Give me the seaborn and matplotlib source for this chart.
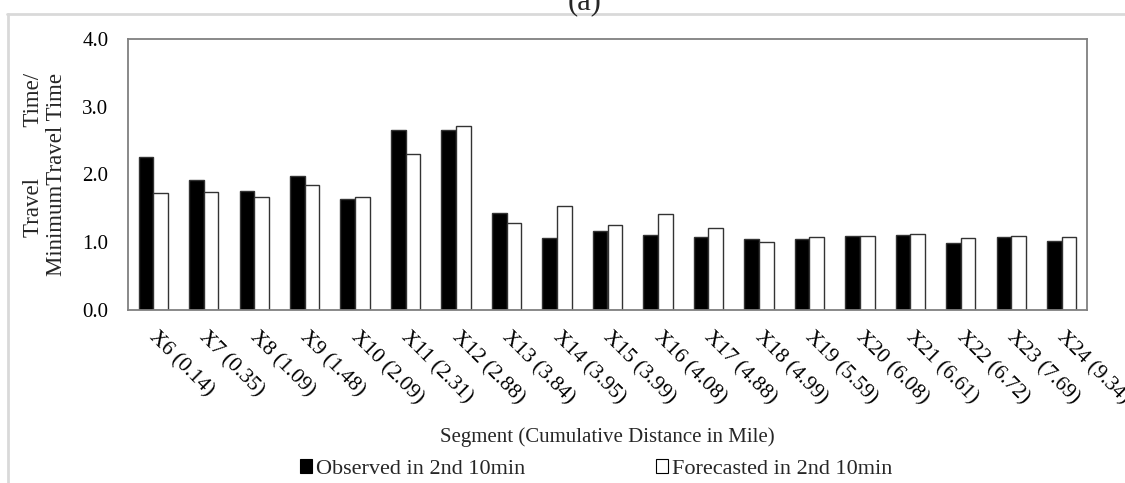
import matplotlib
matplotlib.use("Agg")
import matplotlib.pyplot as plt
from matplotlib.patches import Patch
from matplotlib.lines import Line2D
from matplotlib.transforms import ScaledTranslation
import pandas as pd
import seaborn as sns

# Segment labels with cumulative distance (miles)
segments = ["X6 (0.14)", "X7 (0.35)", "X8 (1.09)", "X9 (1.48)", "X10 (2.09)",
            "X11 (2.31)", "X12 (2.88)", "X13 (3.84)", "X14 (3.95)", "X15 (3.99)",
            "X16 (4.08)", "X17 (4.88)", "X18 (4.99)", "X19 (5.59)", "X20 (6.08)",
            "X21 (6.61)", "X22 (6.72)", "X23 (7.69)", "X24 (9.34)"]

# Travel time / minimum travel time ratios
observed = [2.26, 1.91, 1.76, 1.98, 1.63, 2.66, 2.66, 1.43, 1.06, 1.16,
            1.11, 1.08, 1.04, 1.05, 1.09, 1.10, 0.99, 1.08, 1.01]
forecasted = [1.72, 1.74, 1.66, 1.84, 1.67, 2.30, 2.71, 1.28, 1.53, 1.26,
              1.41, 1.21, 1.00, 1.07, 1.09, 1.12, 1.06, 1.09, 1.07]

series_names = ["Observed in 2nd 10min", "Forecasted in 2nd 10min"]
y_ticks = [0.0, 1.0, 2.0, 3.0, 4.0]

df = pd.DataFrame({
    "segment": segments * 2,
    "ratio": observed + forecasted,
    "series": [series_names[0]] * len(segments) + [series_names[1]] * len(segments),
})

sns.set_theme(style="white")
plt.rcParams["font.family"] = ["Liberation Serif", "DejaVu Serif"]

W, H = 1125, 483
fig = plt.figure(figsize=(W / 100, H / 100), dpi=100)
fig.patch.set_facecolor("white")
ax = fig.add_axes([128 / W, 1 - 310 / H, (1087 - 128) / W, (310 - 38.7) / H])

palette = {series_names[0]: "black", series_names[1]: "white"}
sns.barplot(data=df, x="segment", y="ratio", hue="series", order=segments,
            hue_order=series_names, palette=palette, width=0.58,
            edgecolor="#333333", linewidth=1.0, saturation=1, ax=ax,
            legend=False, errorbar=None)

ax.set_ylim(0, 4)
ax.set_yticks(y_ticks)
ax.set_yticklabels([f"{v:.1f}" for v in y_ticks])
ax.tick_params(axis="y", length=0, pad=14, labelsize=15, colors="black")
ax.tick_params(axis="x", length=0, pad=13, labelsize=15.5, colors="black")
shift = ScaledTranslation(5 / 100, 0, fig.dpi_scale_trans)
for lab in ax.get_xticklabels():
    lab.set_rotation(-45)
    lab.set_rotation_mode("anchor")
    lab.set_ha("left")
    lab.set_va("top")
    lab.set_transform(lab.get_transform() + shift)

for sp in ax.spines.values():
    sp.set_visible(True)
    sp.set_color("#808080")
    sp.set_linewidth(1.3)

ax.set_xlabel("")
ax.set_ylabel("")

# Axis titles
fig.text(607 / W, 1 - 437 / H, "Segment (Cumulative Distance in Mile)",
         ha="center", va="center", fontsize=15)
fig.text(45 / W, 1 - 73 / H, "Travel         Time/\nMinimumTravel Time",
         ha="center", va="top", rotation=90, fontsize=16.5, linespacing=1.1,
         multialignment="right")

# Panel tag
fig.text(585 / W, 1 - 9 / H, "(a)", ha="center", va="baseline", fontsize=22)

# Light frame lines along the top and left edge
fig.add_artist(Line2D([7 / W, 1.0], [1 - 14 / H, 1 - 14 / H], color="#d9d9d9",
                      linewidth=2, transform=fig.transFigure))
fig.add_artist(Line2D([7.5 / W, 7.5 / W], [0.0, 1 - 14 / H], color="#d9d9d9",
                      linewidth=2, transform=fig.transFigure))

# Legend
handles = [Patch(facecolor="black", edgecolor="black", linewidth=0.8),
           Patch(facecolor="white", edgecolor="black", linewidth=0.8)]
fig.legend(handles, series_names, loc="center", ncol=2,
           bbox_to_anchor=(596 / W, 1 - 469 / H), frameon=False, fontsize=16,
           handlelength=0.55, handleheight=0.55, handletextpad=0.15,
           columnspacing=5.9, borderaxespad=0, borderpad=0)

fig.savefig("out.png", dpi=100, facecolor="white")
